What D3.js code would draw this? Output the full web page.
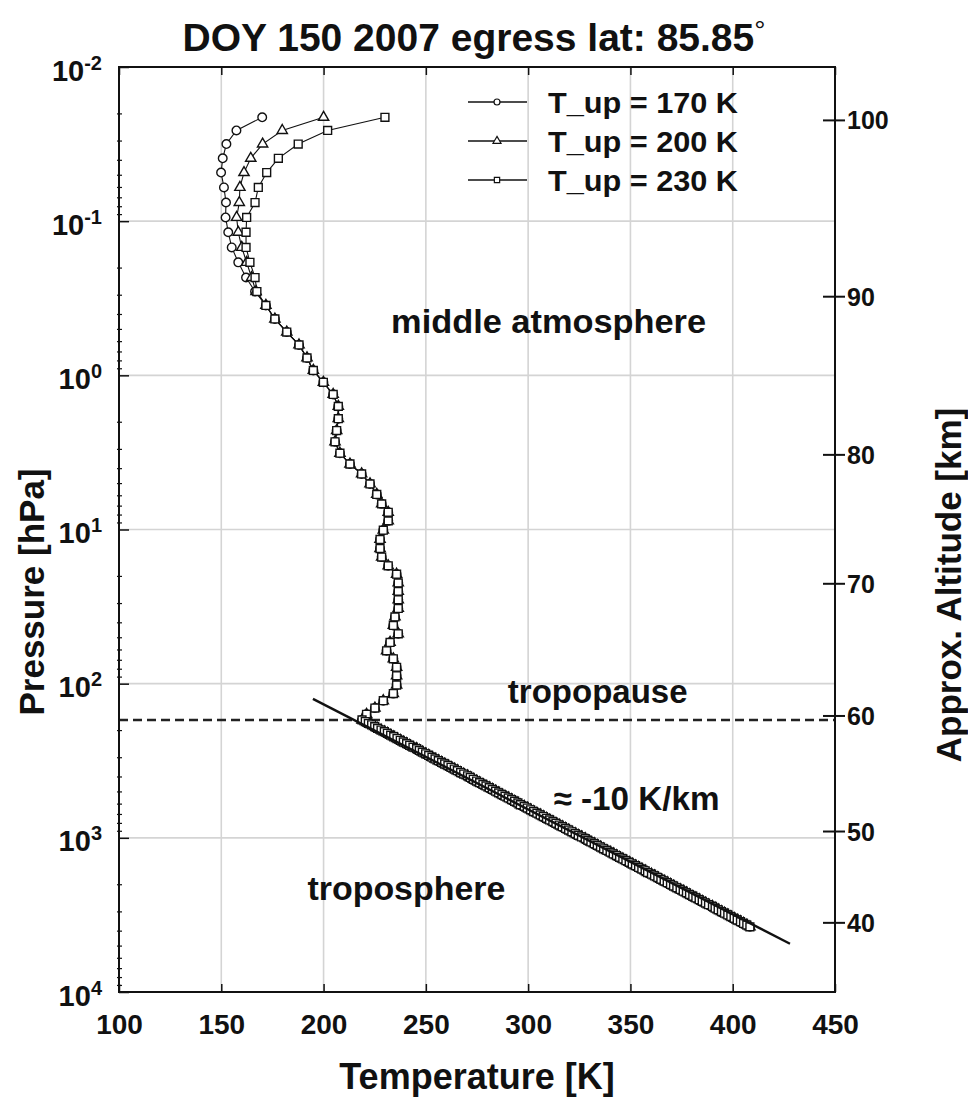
<!DOCTYPE html>
<html><head><meta charset="utf-8">
<script src="https://cdn.jsdelivr.net/npm/d3@7"></script>
<style>
html,body{margin:0;padding:0;background:#fff;}
text{font-family:"Liberation Sans",Arial,Helvetica,sans-serif;font-weight:bold;fill:#111;}
</style></head>
<body>
<svg id="chart" width="968" height="1105"></svg>
<script>
// ---------------- DATA ----------------
// pressure levels [hPa] of the retrieved profile (top to bottom)
const pressure = [0.0212,0.0258,0.0316,0.0391,0.0484,0.0604,0.0757,0.0946,0.118,0.148,0.185,0.232,0.286,
  0.352,0.431,0.524,0.635,0.771,0.929,1.11,1.33,1.59,1.91,2.28,2.70,3.20,3.76,4.36,5.06,5.92,6.82,7.74,8.79,
  10.1,11.6,13.3,15.1,17.2,19.5,22.2,25.2,28.6,32.5,36.9,41.9,47.5,54.0,61.2,69.0,78.3,88.9,102,116,129,144,158,172,
  176,181,185,190,195,200,205,210,216,221,227,233,239,245,251,258,264,271,278,285,
  292,300,308,316,324,332,340,349,358,367,377,386,396,406,417,428,439,450,461,473,
  485,498,511,524,537,551,565,579,594,610,625,641,658,675,692,710,728,747,766,785,
  805,826,847,869,891,914,938,962,986,1012,1038,1064,1091,1119,1148,1178,1208,1239,1271,1303,
  1337,1371,1406,1442,1479,1517,1556,1596,1637,1679,1722,1766,1811,1858,1906,1954,2005,2056,2109,2163,
  2218,2275,2334,2393,2455,2518,2582,2649,2716,2786,2858,2931,3006,3083,3162,3243,3327,3412,3499,3589,3681,3776];
// temperatures [K] above the level where the three retrievals merge
const tUp170Top = [170,157.4,152.5,150.7,149.9,151.3,152.3,152.1,153.4,155.1,158.3,162.1,166.5];
const tUp200Top = [200,179.8,170.2,164.4,161.1,159.1,158.8,157.5,158.3,160.0,162.4,164.8,167.0];
const tUp230Top = [230,202.0,187.6,177.9,172.2,168.1,166.5,162.4,162.1,162.1,164.0,166.5,167.4];
// common temperatures [K] below (identical for the three retrievals)
const tCommon = [171.8,176.2,182.0,188.0,191.9,195.0,199.9,204.7,207.2,207.2,206.4,205.6,208.0,212.9,218.6,222.7,
  226.0,228.4,231.6,231.6,229.2,227.6,227.6,228.4,231.6,235.7,236.5,236.5,236.5,236.5,234.9,234.1,236.5,232.5,230.8,
  234.1,235.7,235.7,235.7,234.1,229.2,225.1,221.0,218.8,
  220.4,221.9,223.5,225.0,226.4,228.1,229.7,231.2,232.8,234.3,235.9,237.5,239.0,240.6,242.1,243.7,245.5,246.8,248.3,249.9,
  251.4,253.0,254.5,256.1,257.7,259.2,260.8,262.3,263.9,265.4,267.0,268.5,270.4,271.7,273.2,274.8,276.3,277.9,279.4,281.0,
  282.5,284.1,285.6,287.2,288.7,290.3,291.9,293.4,295.0,296.2,298.1,299.6,301.2,302.7,304.3,305.9,307.4,309.0,310.5,312.1,
  313.6,315.2,316.7,318.3,319.8,321.4,323.0,324.5,326.1,327.9,329.2,330.7,332.3,333.8,335.4,336.9,338.5,340.1,341.6,343.2,
  344.7,346.3,347.8,349.4,350.9,352.5,354.0,355.6,357.2,358.4,360.3,361.8,363.4,364.9,366.5,368.0,369.6,371.1,372.7,374.3,
  375.8,377.4,378.9,380.5,382.0,383.6,385.1,386.7,388.2,390.1,391.4,392.9,394.5,396.0,397.6,399.1,400.7,402.2,403.8,405.3,
  406.9,408.4];
const seriesNames = ["T_up = 170 K","T_up = 200 K","T_up = 230 K"];
const seriesTop = [tUp170Top, tUp200Top, tUp230Top];
const seriesMarkers = ["circle","triangle","square"];
// lapse-rate fit line
const lapseT = [194.8, 428];
const lapseP = [125.6, 4865];
const tropopauseP = 172;
// axes
const xTicks = [100,150,200,250,300,350,400,450];
const pDecades = [1e-2,1e-1,1e0,1e1,1e2,1e3,1e4];
const pDecadeExp = ["-2","-1","0","1","2","3","4"];
const altitudeTicks = [100,90,80,70,60,50,40];
const altitudeTickP = [0.0222,0.309,3.28,22.5,162,910,3560];
const annotations = [
  {text:"middle atmosphere", T:310, p:0.447, w:315},
  {text:"tropopause", T:334, p:112, w:0},
  {text:"≈ -10 K/km", T:353, p:555, w:166},
  {text:"troposphere", T:240.5, p:2130, w:198}
];

// ---------------- CHART ----------------
const svg = d3.select("#chart");
const L=119, R=835, T=67, B=992;
const x = d3.scaleLinear().domain([100,450]).range([L,R]);
const y = d3.scaleLog().domain([1e-2,1e4]).range([T,B]);

// grid
const g = svg.append("g");
g.selectAll(".vg").data(xTicks.slice(1,-1)).enter().append("line")
  .attr("x1",d=>x(d)).attr("x2",d=>x(d)).attr("y1",T).attr("y2",B)
  .attr("stroke","#d4d4d4").attr("stroke-width",1.6);
g.selectAll(".hg").data(pDecades.slice(1,-1)).enter().append("line")
  .attr("x1",L).attr("x2",R).attr("y1",d=>y(d)).attr("y2",d=>y(d))
  .attr("stroke","#d4d4d4").attr("stroke-width",1.6);

// tropopause dashed line
svg.append("line").attr("x1",L).attr("x2",R).attr("y1",y(tropopauseP)).attr("y2",y(tropopauseP))
  .attr("stroke","#222").attr("stroke-width",2.6).attr("stroke-dasharray","9,5");

// series
function build(i){
  const temps = seriesTop[i].concat(tCommon);
  return pressure.map((p,k)=>({p:p,t:temps[k]}));
}
const line = d3.line().x(d=>x(d.t)).y(d=>y(d.p));
const sym = {
  circle: d3.symbol().type(d3.symbolCircle).size(58),
  triangle: d3.symbol().type(d3.symbolTriangle).size(46),
  square: d3.symbol().type(d3.symbolSquare).size(62)
};
[0,1,2].forEach(i=>{
  const data = build(i);
  const gs = svg.append("g");
  gs.append("path").attr("d",line(data)).attr("fill","none").attr("stroke","#111").attr("stroke-width",1.1);
  gs.selectAll("path.m").data(data).enter().append("path").attr("class","m")
    .attr("transform",d=>`translate(${x(d.t)},${y(d.p)})`)
    .attr("d",sym[seriesMarkers[i]]())
    .attr("fill","#fff").attr("stroke","#111").attr("stroke-width",1.4);
});

// lapse line
svg.append("path").attr("d",line(lapseT.map((t,k)=>({t:t,p:lapseP[k]}))))
  .attr("stroke","#111").attr("stroke-width",2.4).attr("fill","none");

// frame
svg.append("rect").attr("x",L).attr("y",T).attr("width",R-L).attr("height",B-T)
  .attr("fill","none").attr("stroke","#111").attr("stroke-width",2);

// bottom axis
const ax = svg.append("g").attr("transform",`translate(0,${B})`)
  .call(d3.axisBottom(x).tickValues(xTicks).tickSize(-8).tickPadding(22).tickFormat(d3.format("d")));
ax.select(".domain").remove();
ax.selectAll("line").attr("stroke","#111").attr("stroke-width",1.5);
ax.selectAll("text").style("font-size","28px").attr("fill","#111");
// top axis ticks
const axt = svg.append("g").attr("transform",`translate(0,${T})`)
  .call(d3.axisTop(x).tickValues(xTicks).tickSize(-8).tickFormat(""));
axt.select(".domain").remove();
axt.selectAll("line").attr("stroke","#111").attr("stroke-width",1.5);

// left axis: minor and major ticks
const minor = [];
for (let e=-2;e<4;e++) for (let m=2;m<10;m++) minor.push(m*Math.pow(10,e));
const aym = svg.append("g").attr("transform",`translate(${L},0)`)
  .call(d3.axisLeft(y).tickValues(minor).tickSize(-6).tickFormat(""));
aym.select(".domain").remove();
aym.selectAll("line").attr("stroke","#111").attr("stroke-width",1.2).attr("x2",5).attr("transform","translate(-2,0)");
const ay = svg.append("g").attr("transform",`translate(${L},0)`)
  .call(d3.axisLeft(y).tickValues(pDecades).tickSize(-10).tickFormat(""));
ay.select(".domain").remove();
ay.selectAll("line").attr("stroke","#111").attr("stroke-width",1.5);
ay.selectAll(".tick").append("text").attr("x",-17).attr("dy","0.45em").attr("text-anchor","end")
  .style("font-size","29px").attr("fill","#111")
  .each(function(d,i){
    const t = d3.select(this);
    t.append("tspan").text("10");
    t.append("tspan").attr("dy","-0.55em").style("font-size","20px").text(pDecadeExp[i]);
  });

// right axis: altitude
const ar = svg.append("g");
ar.selectAll("line").data(altitudeTickP).enter().append("line")
  .attr("x1",R-12).attr("x2",R+10).attr("y1",d=>y(d)).attr("y2",d=>y(d))
  .attr("stroke","#111").attr("stroke-width",2);
ar.selectAll("text").data(altitudeTickP).enter().append("text")
  .attr("x",R+12).attr("y",d=>y(d)).attr("dy","0.36em")
  .style("font-size","25px").text((d,i)=>altitudeTicks[i]);

// legend
const lg = svg.append("g");
seriesNames.forEach((n,i)=>{
  const yy = 102 + i*39;
  lg.append("line").attr("x1",468).attr("x2",527).attr("y1",yy).attr("y2",yy).attr("stroke","#111").attr("stroke-width",1.3);
  const s = d3.symbol().type(seriesMarkers[i]==="circle"?d3.symbolCircle:seriesMarkers[i]==="triangle"?d3.symbolTriangle:d3.symbolSquare).size(28);
  lg.append("path").attr("d",s()).attr("transform",`translate(497,${yy})`).attr("fill","#fff").attr("stroke","#111").attr("stroke-width",1.2);
  lg.append("text").attr("x",548).attr("y",yy).attr("dy","0.36em").style("font-size","30px")
    .attr("textLength",190).attr("lengthAdjust","spacingAndGlyphs").text(n);
});

// annotations
annotations.forEach(a=>{
  const t = svg.append("text").attr("x",x(a.T)).attr("y",y(a.p)).attr("dy","0.36em").attr("text-anchor","middle")
    .style("font-size","33px").text(a.text);
  if (a.w) t.attr("textLength",a.w).attr("lengthAdjust","spacingAndGlyphs");
});

// titles
const title = svg.append("text").attr("x",474).attr("y",51).attr("text-anchor","middle").style("font-size","39px");
title.append("tspan").text("DOY 150 2007 egress lat: 85.85");
title.append("tspan").attr("dy","-0.4em").style("font-size","28px").style("font-weight","normal").text("°");
svg.append("text").attr("x",477).attr("y",1089).attr("text-anchor","middle").style("font-size","36px").text("Temperature [K]");
svg.append("text").attr("transform","translate(44,592) rotate(-90)").attr("text-anchor","middle").style("font-size","35px").text("Pressure [hPa]");
svg.append("text").attr("transform","translate(961,585) rotate(-90)").attr("text-anchor","middle").style("font-size","35px").text("Approx. Altitude [km]");
</script>
</body></html>
